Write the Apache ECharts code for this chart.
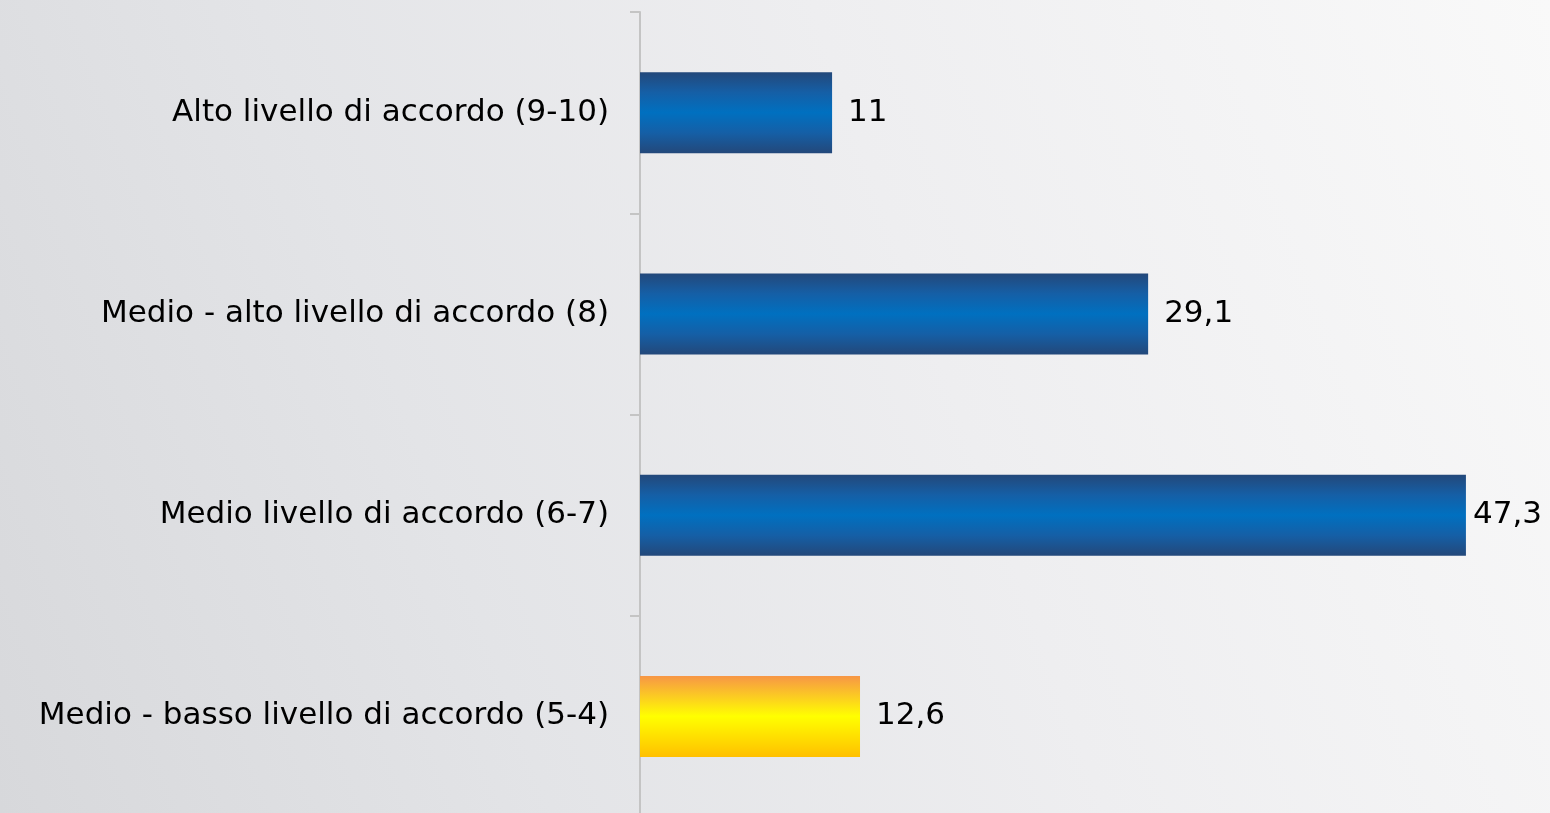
<!DOCTYPE html>
<html>
<head>
<meta charset="utf-8">
<script src="https://cdn.jsdelivr.net/npm/echarts@6/dist/echarts.min.js"></script>
<style>
  html, body { margin: 0; padding: 0; }
  body {
    width: 1550px; height: 813px; overflow: hidden;
    background: linear-gradient(70deg, #d7d8db 0%, #e3e4e7 30%, #eeeef0 60%, #f9f9f9 100%);
  }
  /* a little taller than the window: the plot runs past the bottom edge */
  #chart { width: 1550px; height: 817px; }
</style>
</head>
<body>
<div id="chart"></div>
<script>
const categories = [
  'Alto livello di accordo (9-10)',
  'Medio - alto livello di accordo (8)',
  'Medio livello di accordo (6-7)',
  'Medio - basso livello di accordo (5-4)'
];
const values = [11, 29.1, 47.3, 12.6];
const highlight = [false, false, false, true];

const blue = new echarts.graphic.LinearGradient(0, 0, 0, 1, [
  { offset: 0, color: '#23487a' },
  { offset: 0.25, color: '#155fa6' },
  { offset: 0.5, color: '#0070c0' },
  { offset: 0.75, color: '#155fa6' },
  { offset: 1, color: '#23487a' }
]);
const yellow = new echarts.graphic.LinearGradient(0, 0, 0, 1, [
  { offset: 0, color: '#f79646' },
  { offset: 0.5, color: '#ffff00' },
  { offset: 1, color: '#ffc000' }
]);

const chart = echarts.init(document.getElementById('chart'));
chart.setOption({
  backgroundColor: 'transparent',
  animation: false,
  grid: { left: 640, right: 2, top: 12, bottom: 0, containLabel: false },
  xAxis: {
    type: 'value',
    min: 0,
    max: 52,
    show: false
  },
  yAxis: {
    type: 'category',
    inverse: true,
    data: categories,
    axisLine: { show: true, lineStyle: { color: '#c4c4c4', width: 2 } },
    axisTick: { show: true, length: 10, lineStyle: { color: '#c4c4c4', width: 2 } },
    axisLabel: {
      margin: 31,
      color: '#000',
      fontSize: 31,
      fontFamily: 'DejaVu Sans'
    },
    splitLine: { show: false }
  },
  series: [{
    type: 'bar',
    barWidth: 81,
    data: values.map((v, i) => ({
      value: v,
      itemStyle: { color: highlight[i] ? yellow : blue },
      // the longest bar's label is pulled in to fit the edge
      label: v === Math.max(...values) ? { distance: 7 } : undefined
    })),
    label: {
      show: true,
      position: 'right',
      distance: 16,
      color: '#000',
      fontSize: 31,
      fontFamily: 'DejaVu Sans',
      formatter: p => String(p.value).replace('.', ',')
    }
  }]
});
</script>
</body>
</html>
